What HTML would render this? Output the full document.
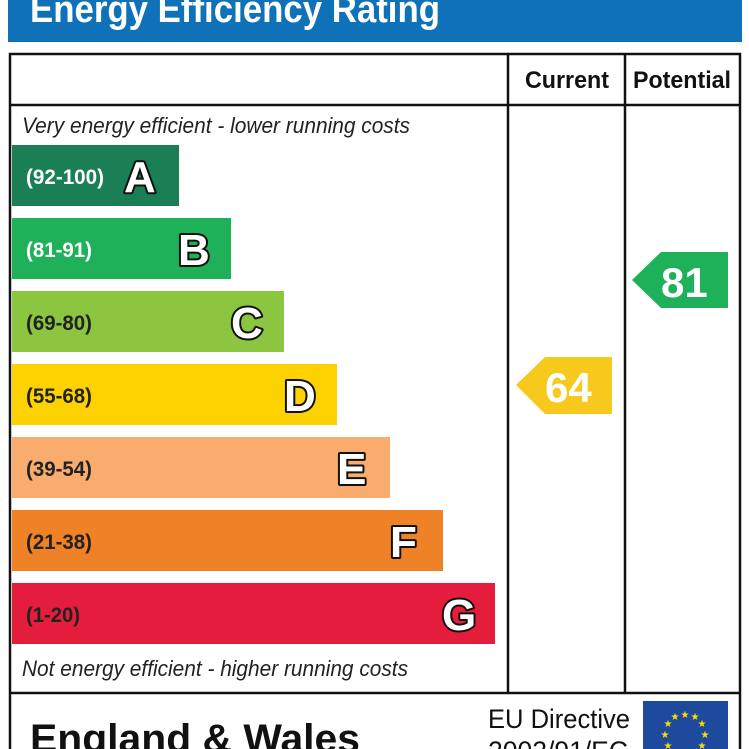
<!DOCTYPE html>
<html><head><meta charset="utf-8"><style>
html,body{margin:0;padding:0;background:#fff;}
svg{display:block;font-family:"Liberation Sans",Arial,sans-serif;}
.L{font-weight:bold;font-size:44px;fill:#fff;stroke:#111;stroke-width:4px;paint-order:stroke fill;stroke-linejoin:round;}
.R{font-weight:bold;font-size:21px;}
</style></head><body>
<svg width="749" height="749" viewBox="0 0 749 749">
<rect x="8" y="0" width="734" height="42" fill="#0f72b8"/>
<text x="30" y="22" font-size="38" font-weight="bold" fill="#fff" textLength="410" lengthAdjust="spacingAndGlyphs">Energy Efficiency Rating</text>
<rect x="10" y="54" width="730" height="710" fill="none" stroke="#111" stroke-width="2.5"/>
<line x1="10" y1="105" x2="740" y2="105" stroke="#111" stroke-width="2.5"/>
<line x1="508" y1="54" x2="508" y2="693" stroke="#111" stroke-width="2.5"/>
<line x1="625" y1="54" x2="625" y2="693" stroke="#111" stroke-width="2.5"/>
<line x1="10" y1="693" x2="740" y2="693" stroke="#111" stroke-width="2.5"/>
<text x="525" y="88" font-size="24" font-weight="bold" fill="#111" textLength="84" lengthAdjust="spacingAndGlyphs">Current</text>
<text x="633" y="88" font-size="24" font-weight="bold" fill="#111" textLength="98" lengthAdjust="spacingAndGlyphs">Potential</text>
<text x="22" y="133" font-size="22" font-style="italic" fill="#222" textLength="388" lengthAdjust="spacingAndGlyphs">Very energy efficient - lower running costs</text>
<text x="22" y="676" font-size="22" font-style="italic" fill="#222" textLength="386" lengthAdjust="spacingAndGlyphs">Not energy efficient - higher running costs</text>

<rect x="12" y="145" width="167" height="61" fill="#1a7f55"/>
<text x="26" y="184" class="R" fill="#fff" textLength="78" lengthAdjust="spacingAndGlyphs">(92-100)</text><text x="124" y="192" class="L">A</text>
<rect x="12" y="218" width="219" height="61" fill="#1fb15a"/>
<text x="26" y="257" class="R" fill="#fff" textLength="66" lengthAdjust="spacingAndGlyphs">(81-91)</text><text x="178" y="265" class="L">B</text>
<rect x="12" y="291" width="272" height="61" fill="#8cc640"/>
<text x="26" y="330" class="R" fill="#222" textLength="66" lengthAdjust="spacingAndGlyphs">(69-80)</text><text x="231" y="338" class="L">C</text>
<rect x="12" y="364" width="325" height="61" fill="#fdd200"/>
<text x="26" y="403" class="R" fill="#222" textLength="66" lengthAdjust="spacingAndGlyphs">(55-68)</text><text x="284" y="411" class="L">D</text>
<rect x="12" y="437" width="378" height="61" fill="#f8ad6e"/>
<text x="26" y="476" class="R" fill="#222" textLength="66" lengthAdjust="spacingAndGlyphs">(39-54)</text><text x="337" y="484" class="L">E</text>
<rect x="12" y="510" width="431" height="61" fill="#ef8127"/>
<text x="26" y="549" class="R" fill="#222" textLength="66" lengthAdjust="spacingAndGlyphs">(21-38)</text><text x="390" y="557" class="L">F</text>
<rect x="12" y="583" width="483" height="61" fill="#e51d3c"/>
<text x="26" y="622" class="R" fill="#222" textLength="54" lengthAdjust="spacingAndGlyphs">(1-20)</text><text x="442" y="630" class="L">G</text>

<polygon points="516,385 545,357 612,357 612,414 545,414" fill="#f7c91c"/>
<text x="545" y="402" font-size="42" font-weight="bold" fill="#fff">64</text>
<polygon points="632,280 661,252 728,252 728,308 661,308" fill="#1fb15a"/>
<text x="661" y="297" font-size="42" font-weight="bold" fill="#fff">81</text>

<text x="30" y="752" font-size="40" font-weight="bold" fill="#111" textLength="330" lengthAdjust="spacingAndGlyphs">England &amp; Wales</text>
<text x="488" y="728" font-size="27" fill="#111" textLength="142" lengthAdjust="spacingAndGlyphs">EU Directive</text>
<text x="488" y="760" font-size="27" fill="#111" textLength="140" lengthAdjust="spacingAndGlyphs">2002/91/EC</text>
<rect x="643" y="701" width="85" height="60" fill="#1d4a9c"/>
<g fill="#ffdd00" font-size="10" text-anchor="middle">
<text x="685" y="718">★</text><text x="675" y="720">★</text><text x="695" y="720">★</text>
<text x="668" y="727">★</text><text x="702" y="727">★</text>
<text x="665" y="738">★</text><text x="705" y="738">★</text>
<text x="668" y="749">★</text><text x="702" y="749">★</text>
</g>
</svg>
</body></html>
